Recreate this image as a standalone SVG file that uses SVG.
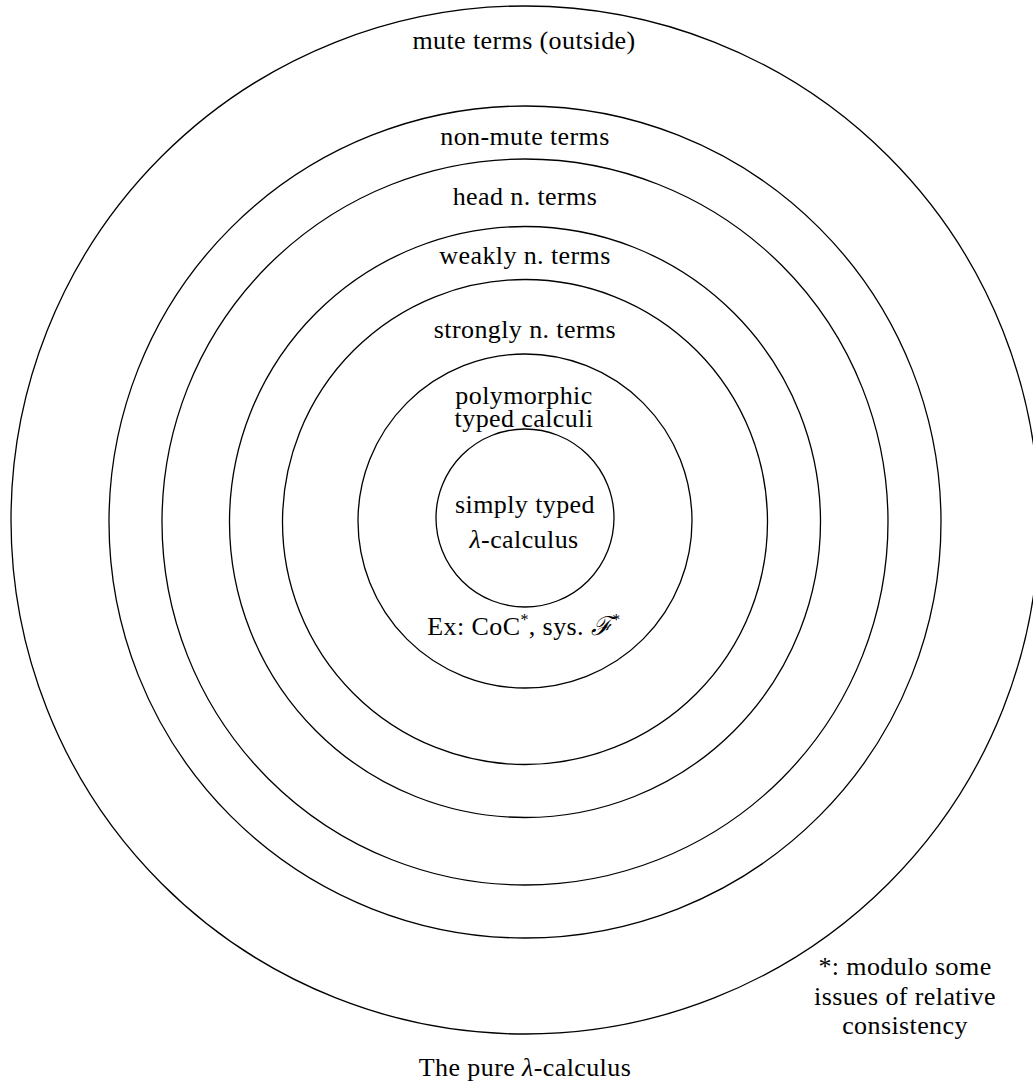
<svg xmlns="http://www.w3.org/2000/svg" width="1033" height="1088" viewBox="0 0 1033 1088">
<style>
.ring{fill:none;stroke:#000;stroke-width:1.3}
.t{font-family:"Liberation Serif","DejaVu Serif",serif;font-size:26px;letter-spacing:0.4px;fill:#000;text-anchor:middle}
.sup{font-size:16px}
.it{font-style:italic}
</style>
<rect width="1033" height="1088" fill="#fff"/>
<g id="mute">
<circle class="ring" cx="525" cy="520" r="514"/>
<text class="t" x="524" y="49" font-family="Liberation Serif, serif">mute terms (outside)</text>
</g>
<g id="non-mute">
<circle class="ring" cx="525" cy="522" r="416"/>
<text class="t" x="525" y="145" font-family="Liberation Serif, serif">non-mute terms</text>
</g>
<g id="head-normalizing">
<circle class="ring" cx="525" cy="522" r="363"/>
<text class="t" x="525" y="205" font-family="Liberation Serif, serif">head n. terms</text>
</g>
<g id="weakly-normalizing">
<circle class="ring" cx="525" cy="522" r="295.5"/>
<text class="t" x="525" y="264" font-family="Liberation Serif, serif">weakly n. terms</text>
</g>
<g id="strongly-normalizing">
<circle class="ring" cx="525" cy="522" r="242.5"/>
<text class="t" x="525" y="338" font-family="Liberation Serif, serif">strongly n. terms</text>
</g>
<g id="polymorphic">
<circle class="ring" cx="525" cy="521" r="167"/>
<text class="t" x="524" y="404" font-family="Liberation Serif, serif">polymorphic</text>
<text class="t" x="524" y="427" font-family="Liberation Serif, serif">typed calculi</text>
<text class="t" x="524" y="635" font-family="Liberation Serif, serif">Ex: CoC<tspan class="sup" dy="-10">*</tspan><tspan dy="10">, sys. </tspan><tspan class="it">ℱ</tspan><tspan class="sup" dy="-10">*</tspan></text>
</g>
<g id="simply-typed">
<circle class="ring" cx="525" cy="518" r="89"/>
<text class="t" x="525" y="513" font-family="Liberation Serif, serif">simply typed</text>
<text class="t" x="524" y="548" font-family="Liberation Serif, serif"><tspan class="it">λ</tspan>-calculus</text>
</g>
<g id="connectors"></g>
<g id="footnote">
<text class="t" x="905" y="975" font-family="Liberation Serif, serif">*: modulo some</text>
<text class="t" x="905" y="1005" font-family="Liberation Serif, serif">issues of relative</text>
<text class="t" x="905" y="1034" font-family="Liberation Serif, serif">consistency</text>
</g>
<g id="caption">
<text class="t" x="525" y="1076" font-family="Liberation Serif, serif">The pure <tspan class="it">λ</tspan>-calculus</text>
</g>
</svg>
